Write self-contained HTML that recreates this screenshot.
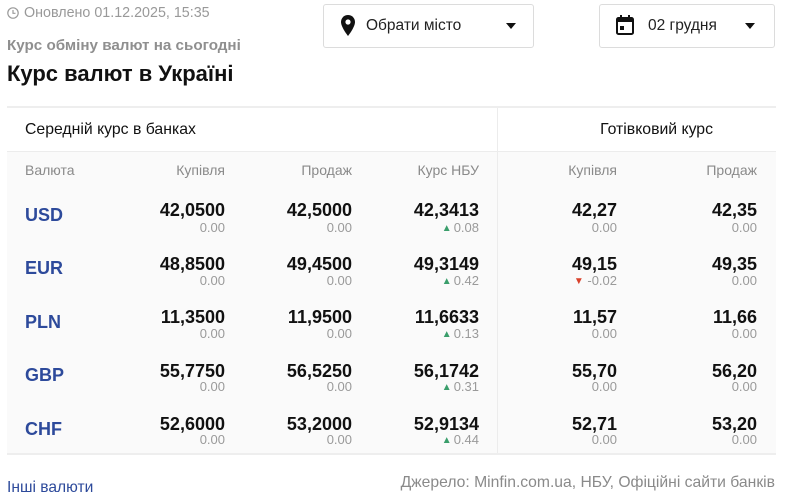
<!DOCTYPE html>
<html><head><meta charset="utf-8">
<style>
*{margin:0;padding:0;box-sizing:border-box}
html,body{width:789px;height:500px;background:#fff;overflow:hidden}
body{position:relative;font-family:"Liberation Sans","Noto Sans CJK SC",sans-serif;color:#111}
.a{position:absolute;white-space:nowrap;line-height:1}
.r{text-align:right}
.val{font-weight:bold;font-size:18px;color:#111}
.sub{font-size:13px;color:#9a9a9a}
.cur{font-weight:bold;font-size:18px;color:#2d4a9b}
.hd{font-size:14px;color:#8a8a8a}
.up{color:#3a9e6b;font-size:10px;vertical-align:1px;margin-right:2px}
.dn{color:#d9412b;font-size:10px;vertical-align:1px}
</style></head><body>

<!-- top -->
<svg class="a" style="left:7px;top:7px" width="12" height="12" viewBox="0 0 12 12"><circle cx="6" cy="6" r="5.2" fill="none" stroke="#999" stroke-width="1.2"/><path d="M6 3v3.3h2.5" fill="none" stroke="#999" stroke-width="1.2"/></svg>
<div class="a" style="left:24px;top:6px;font-size:14.3px;color:#999">Оновлено 01.12.2025, 15:35</div>
<div class="a" style="left:7px;top:38px;font-size:15.2px;font-weight:bold;color:#8f8f8f">Курс обміну валют на сьогодні</div>
<div class="a" style="left:7px;top:63px;font-size:22px;font-weight:bold;color:#111">Курс валют в Україні</div>

<!-- city button -->
<div class="a" style="left:323px;top:4px;width:211px;height:44px;border:1px solid #dcdcdc;border-radius:3px;background:#fff"></div>
<svg class="a" style="left:341px;top:15px" width="14" height="21" viewBox="0 0 14 21"><path d="M7 0C3.1 0 0 3.1 0 7c0 5.2 7 14 7 14s7-8.8 7-14C14 3.1 10.9 0 7 0z" fill="#111"/><circle cx="7" cy="7" r="2.6" fill="#fff"/></svg>
<div class="a" style="left:366px;top:18px;font-size:15.5px;color:#222">Обрати місто</div>
<div class="a" style="left:506px;top:23px;width:0;height:0;border-left:5.5px solid transparent;border-right:5.5px solid transparent;border-top:6px solid #111"></div>

<!-- date button -->
<div class="a" style="left:599px;top:4px;width:176px;height:44px;border:1px solid #dcdcdc;border-radius:3px;background:#fff"></div>
<svg class="a" style="left:616px;top:15px" width="18" height="20" viewBox="0 0 18 20"><rect x="1" y="3" width="16" height="16" rx="1.5" fill="none" stroke="#111" stroke-width="2"/><rect x="1" y="3" width="16" height="4" fill="#111"/><rect x="4" y="0" width="2" height="4" fill="#111"/><rect x="12" y="0" width="2" height="4" fill="#111"/><rect x="4" y="11" width="4" height="4" fill="#111"/></svg>
<div class="a" style="left:648px;top:18px;font-size:15.5px;color:#222">02 грудня</div>
<div class="a" style="left:745px;top:23px;width:0;height:0;border-left:5.5px solid transparent;border-right:5.5px solid transparent;border-top:6px solid #111"></div>

<!-- table -->
<div class="a" style="left:7px;top:106px;width:769px;height:2px;background:#eeeeee"></div>
<div class="a" style="left:7px;top:152px;width:769px;height:302px;background:#fafafa"></div>
<div class="a" style="left:7px;top:151px;width:769px;height:1px;background:#ececec"></div>
<div class="a" style="left:7px;top:453px;width:769px;height:2px;background:#eeeeee"></div>
<div class="a" style="left:497px;top:108px;width:1px;height:345px;background:#ececec"></div>

<div class="a" style="left:25px;top:122px;font-size:15.8px;color:#111">Середній курс в банках</div>
<div class="a r" style="left:560px;width:153px;top:122px;font-size:15.8px;color:#111">Готівковий курс</div>

<div class="a hd" style="left:25px;top:163px">Валюта</div>
<div class="a hd r" style="left:125px;width:100px;top:163px">Купівля</div>
<div class="a hd r" style="left:252px;width:100px;top:163px">Продаж</div>
<div class="a hd r" style="left:379px;width:100px;top:163px">Курс НБУ</div>
<div class="a hd r" style="left:517px;width:100px;top:163px">Купівля</div>
<div class="a hd r" style="left:657px;width:100px;top:163px">Продаж</div>

<!-- USD -->
<div class="a cur" style="left:25px;top:206px">USD</div>
<div class="a val r" style="left:125px;width:100px;top:201px">42,0500</div>
<div class="a sub r" style="left:125px;width:100px;top:221px">0.00</div>
<div class="a val r" style="left:252px;width:100px;top:201px">42,5000</div>
<div class="a sub r" style="left:252px;width:100px;top:221px">0.00</div>
<div class="a val r" style="left:379px;width:100px;top:201px">42,3413</div>
<div class="a sub r" style="left:379px;width:100px;top:221px"><span class="up">▲</span>0.08</div>
<div class="a val r" style="left:517px;width:100px;top:201px">42,27</div>
<div class="a sub r" style="left:517px;width:100px;top:221px">0.00</div>
<div class="a val r" style="left:657px;width:100px;top:201px">42,35</div>
<div class="a sub r" style="left:657px;width:100px;top:221px">0.00</div>

<!-- EUR -->
<div class="a cur" style="left:25px;top:259px">EUR</div>
<div class="a val r" style="left:125px;width:100px;top:255px">48,8500</div>
<div class="a sub r" style="left:125px;width:100px;top:274px">0.00</div>
<div class="a val r" style="left:252px;width:100px;top:255px">49,4500</div>
<div class="a sub r" style="left:252px;width:100px;top:274px">0.00</div>
<div class="a val r" style="left:379px;width:100px;top:255px">49,3149</div>
<div class="a sub r" style="left:379px;width:100px;top:274px"><span class="up">▲</span>0.42</div>
<div class="a val r" style="left:517px;width:100px;top:255px">49,15</div>
<div class="a sub r" style="left:517px;width:100px;top:274px"><span class="dn">▼</span> -0.02</div>
<div class="a val r" style="left:657px;width:100px;top:255px">49,35</div>
<div class="a sub r" style="left:657px;width:100px;top:274px">0.00</div>

<!-- PLN -->
<div class="a cur" style="left:25px;top:313px">PLN</div>
<div class="a val r" style="left:125px;width:100px;top:308px">11,3500</div>
<div class="a sub r" style="left:125px;width:100px;top:327px">0.00</div>
<div class="a val r" style="left:252px;width:100px;top:308px">11,9500</div>
<div class="a sub r" style="left:252px;width:100px;top:327px">0.00</div>
<div class="a val r" style="left:379px;width:100px;top:308px">11,6633</div>
<div class="a sub r" style="left:379px;width:100px;top:327px"><span class="up">▲</span>0.13</div>
<div class="a val r" style="left:517px;width:100px;top:308px">11,57</div>
<div class="a sub r" style="left:517px;width:100px;top:327px">0.00</div>
<div class="a val r" style="left:657px;width:100px;top:308px">11,66</div>
<div class="a sub r" style="left:657px;width:100px;top:327px">0.00</div>

<!-- GBP -->
<div class="a cur" style="left:25px;top:366px">GBP</div>
<div class="a val r" style="left:125px;width:100px;top:362px">55,7750</div>
<div class="a sub r" style="left:125px;width:100px;top:380px">0.00</div>
<div class="a val r" style="left:252px;width:100px;top:362px">56,5250</div>
<div class="a sub r" style="left:252px;width:100px;top:380px">0.00</div>
<div class="a val r" style="left:379px;width:100px;top:362px">56,1742</div>
<div class="a sub r" style="left:379px;width:100px;top:380px"><span class="up">▲</span>0.31</div>
<div class="a val r" style="left:517px;width:100px;top:362px">55,70</div>
<div class="a sub r" style="left:517px;width:100px;top:380px">0.00</div>
<div class="a val r" style="left:657px;width:100px;top:362px">56,20</div>
<div class="a sub r" style="left:657px;width:100px;top:380px">0.00</div>

<!-- CHF -->
<div class="a cur" style="left:25px;top:420px">CHF</div>
<div class="a val r" style="left:125px;width:100px;top:415px">52,6000</div>
<div class="a sub r" style="left:125px;width:100px;top:433px">0.00</div>
<div class="a val r" style="left:252px;width:100px;top:415px">53,2000</div>
<div class="a sub r" style="left:252px;width:100px;top:433px">0.00</div>
<div class="a val r" style="left:379px;width:100px;top:415px">52,9134</div>
<div class="a sub r" style="left:379px;width:100px;top:433px"><span class="up">▲</span>0.44</div>
<div class="a val r" style="left:517px;width:100px;top:415px">52,71</div>
<div class="a sub r" style="left:517px;width:100px;top:433px">0.00</div>
<div class="a val r" style="left:657px;width:100px;top:415px">53,20</div>
<div class="a sub r" style="left:657px;width:100px;top:433px">0.00</div>

<!-- footer -->
<div class="a" style="left:7px;top:480px;font-size:15.6px;color:#2d4a9b">Інші валюти</div>
<div class="a r" style="left:355px;width:420px;top:475px;font-size:15.7px;color:#8a8a8a">Джерело: Minfin.com.ua, НБУ, Офіційні сайти банків</div>

</body></html>
